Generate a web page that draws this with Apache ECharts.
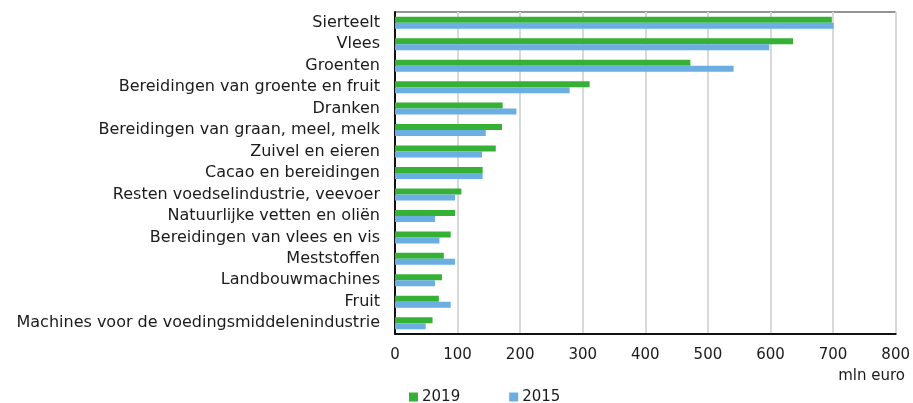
<!DOCTYPE html>
<html>
<head>
<meta charset="utf-8">
<script src="https://cdn.jsdelivr.net/npm/echarts@6/dist/echarts.min.js"></script>
<style>
  html, body { margin: 0; padding: 0; background: #fff; }
  #chart { width: 913px; height: 403px; }
</style>
</head>
<body>
<div id="chart"></div>
<script>
// Product groups, largest first
const categories = [
  'Sierteelt',
  'Vlees',
  'Groenten',
  'Bereidingen van groente en fruit',
  'Dranken',
  'Bereidingen van graan, meel, melk',
  'Zuivel en eieren',
  'Cacao en bereidingen',
  'Resten voedselindustrie, veevoer',
  'Natuurlijke vetten en oliën',
  'Bereidingen van vlees en vis',
  'Meststoffen',
  'Landbouwmachines',
  'Fruit',
  'Machines voor de voedingsmiddelenindustrie'
];

// Values in mln euro
const values2019 = [698, 636, 472, 311, 172, 171, 161, 140, 106, 96, 89, 78, 75, 70, 60];
const values2015 = [701, 598, 541, 279, 194, 145, 139, 140, 96, 64, 71, 96, 64, 89, 49];

const xTicks = { min: 0, max: 800, interval: 100 };
const unitLabel = 'mln euro';

const FONT = 'Verdana, "DejaVu Sans", sans-serif';
const TEXT = '#1a1a1a';

const chart = echarts.init(document.getElementById('chart'), null, { renderer: 'canvas' });

chart.setOption({
  animation: false,
  textStyle: { fontFamily: FONT },
  grid: {
    left: 395, right: 16, top: 12, bottom: 69,
    show: true, borderColor: '#2a2a2a', borderWidth: 1, backgroundColor: 'transparent'
  },
  legend: {
    left: 409, top: 388, padding: 0,
    itemWidth: 9, itemHeight: 9, itemGap: 49,
    icon: 'rect',
    textStyle: { fontFamily: FONT, fontSize: 15, lineHeight: 18, color: TEXT, padding: [0, 0, 0, -1] },
    data: ['2019', '2015']
  },
  xAxis: {
    type: 'value',
    min: xTicks.min, max: xTicks.max, interval: xTicks.interval,
    axisLine: { show: true, onZero: false, lineStyle: { color: '#111', width: 2 } },
    axisTick: { show: false },
    axisLabel: { fontFamily: FONT, fontSize: 15, color: TEXT, margin: 14 },
    splitLine: { show: true, lineStyle: { color: '#d9d9d9', width: 2 } }
  },
  yAxis: {
    type: 'category',
    inverse: true,
    data: categories,
    axisLine: { show: true, lineStyle: { color: '#111', width: 2 } },
    axisTick: { show: false },
    axisLabel: { fontFamily: FONT, fontSize: 16, color: TEXT, margin: 15 },
    splitLine: { show: false }
  },
  graphic: [{
    type: 'text',
    right: 8, top: 369,
    style: { text: unitLabel, fontFamily: FONT, fontSize: 15, fill: TEXT }
  }],
  series: [
    {
      name: '2019', type: 'bar', data: values2019,
      barWidth: 6, barGap: '0%',
      itemStyle: { color: '#35b236' }
    },
    {
      name: '2015', type: 'bar', data: values2015,
      barWidth: 6,
      itemStyle: { color: '#6aaee2' }
    }
  ]
});
</script>
</body>
</html>
